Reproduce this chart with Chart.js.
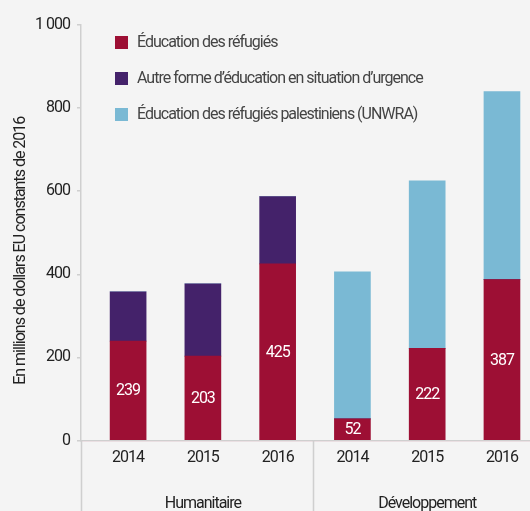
<!DOCTYPE html>
<html lang="fr">
<head>
<meta charset="utf-8">
<title>Financement de l'éducation des réfugiés</title>
<script src="https://cdn.jsdelivr.net/npm/chart.js@4.4.1/dist/chart.umd.min.js"></script>
<style>
  html, body { margin: 0; padding: 0; background: #f4f4f4; overflow: hidden; }
  #wrap { position: relative; width: 530px; height: 511px; }
</style>
</head>
<body>
<div id="wrap"><canvas id="chart"></canvas></div>
<script>
// Years shown under each bar, and the two funding groups they belong to
const years = ['2014', '2015', '2016', '2014', '2015', '2016'];
const groups = ['Humanitaire', 'Développement'];
const groupSize = 3;

// Series values, millions of constant 2016 US dollars
const refugies = [239, 203, 425, 52, 222, 387];
const urgence = [119, 174, 162, 0, 0, 0];
const unrwa = [0, 0, 0, 354, 403, 453];

const seriesNames = [
  'Éducation des réfugiés',
  'Autre forme d’éducation en situation d’urgence',
  'Éducation des réfugiés palestiniens (UNWRA)'
];
const yTicks = [0, 200, 400, 600, 800, 1000];
const yTitle = 'En millions de dollars EU constants de 2016';

const FONT = 'Roboto, "Liberation Sans", sans-serif';
const SPACING = '-1px';
const COLORS = ['#9d0f34', '#44226a', '#7ab9d4'];
const AXIS = '#cfcfcf';

const toPoints = arr => arr.map((v, i) => ({ x: i, y: v }));

function formatThousands(v) {
  return String(v).replace(/\B(?=(\d{3})+(?!\d))/g, ' ');
}

// Tighter letter spacing for all canvas text
const tightText = {
  id: 'tightText',
  beforeUpdate(chart) { chart.ctx.letterSpacing = SPACING; },
  beforeDraw(chart) { chart.ctx.letterSpacing = SPACING; }
};

// Legend inside the plot, top-left
const legendInside = {
  id: 'legendInside',
  afterDraw(chart) {
    const ctx = chart.ctx;
    const x0 = chart.chartArea.left + 34;
    const y0 = chart.chartArea.top + 11;
    ctx.save();
    ctx.font = '16px ' + FONT;
    ctx.textBaseline = 'middle';
    ctx.textAlign = 'left';
    chart.data.datasets.forEach((ds, i) => {
      const y = y0 + i * 36;
      ctx.fillStyle = ds.backgroundColor;
      ctx.fillRect(x0, y, 13, 13);
      ctx.fillStyle = '#444';
      ctx.fillText(ds.label, x0 + 22, y + 7);
    });
    ctx.restore();
  }
};

// Value labels inside the refugee segments
const valueLabels = {
  id: 'valueLabels',
  afterDatasetsDraw(chart) {
    const ctx = chart.ctx;
    const meta = chart.getDatasetMeta(0);
    const { left, right, bottom } = chart.chartArea;
    ctx.save();
    // thin light rule where bars meet the baseline
    ctx.strokeStyle = 'rgba(240,220,225,0.55)';
    ctx.lineWidth = 1;
    ctx.beginPath();
    ctx.moveTo(left, Math.round(bottom) + 0.5);
    ctx.lineTo(right, Math.round(bottom) + 0.5);
    ctx.stroke();

    ctx.font = '16px ' + FONT;
    ctx.fillStyle = '#ffffff';
    ctx.textAlign = 'center';
    ctx.textBaseline = 'middle';
    meta.data.forEach((bar, i) => {
      const v = chart.data.datasets[0].data[i].y;
      if (!v) return;
      const p = bar.getCenterPoint();
      ctx.fillText(String(v), p.x, p.y + 1);
    });
    ctx.restore();
  }
};

// Group captions, separators, axis extension and y title
const groupAxis = {
  id: 'groupAxis',
  afterDraw(chart) {
    const ctx = chart.ctx;
    const xs = chart.scales.x;
    const { left, top, bottom } = chart.chartArea;
    const h = chart.height;
    ctx.save();
    ctx.strokeStyle = AXIS;
    ctx.lineWidth = 1.5;
    // y axis continues below the baseline
    ctx.beginPath();
    ctx.moveTo(Math.round(left) + 0.5, bottom);
    ctx.lineTo(Math.round(left) + 0.5, h);
    ctx.stroke();
    // separators between groups
    for (let g = 1; g < groups.length; g++) {
      const sx = Math.round(xs.getPixelForValue(g * groupSize - 0.5)) - 1.5;
      ctx.beginPath();
      ctx.moveTo(sx, bottom);
      ctx.lineTo(sx, h);
      ctx.stroke();
    }
    // group captions
    ctx.font = '16px ' + FONT;
    ctx.fillStyle = '#222';
    ctx.textAlign = 'center';
    ctx.textBaseline = 'alphabetic';
    groups.forEach((name, g) => {
      const cx = xs.getPixelForValue(g * groupSize + (groupSize - 1) / 2);
      ctx.fillText(name, cx, 508);
    });
    // y axis title
    ctx.translate(21, (top + bottom) / 2 + 18);
    ctx.rotate(-Math.PI / 2);
    ctx.textBaseline = 'middle';
    ctx.fillStyle = '#222';
    ctx.fillText(yTitle, 0, 0);
    ctx.restore();
  }
};

new Chart(document.getElementById('chart'), {
  type: 'bar',
  data: {
    datasets: [
      { label: seriesNames[0], data: toPoints(refugies), backgroundColor: COLORS[0] },
      { label: seriesNames[1], data: toPoints(urgence), backgroundColor: COLORS[1] },
      { label: seriesNames[2], data: toPoints(unrwa), backgroundColor: COLORS[2] }
    ]
  },
  options: {
    responsive: true,
    maintainAspectRatio: false,
    animation: false,
    layout: { padding: { top: 25, right: 0, left: 0, bottom: 0 } },
    datasets: { bar: { barThickness: 36, borderWidth: 0 } },
    plugins: {
      legend: { display: false },
      tooltip: { enabled: false }
    },
    scales: {
      x: {
        type: 'linear',
        stacked: true,
        offset: false,
        min: -0.63,
        max: 5.375,
        afterBuildTicks(scale) {
          scale.ticks = years.map((_, i) => ({ value: i }));
        },
        afterFit(scale) { scale.height = 70.5; },
        grid: { display: false, drawTicks: false },
        border: { display: true, color: AXIS, width: 1.5 },
        ticks: {
          autoSkip: false,
          maxRotation: 0,
          padding: 8,
          color: '#222',
          font: { family: FONT, size: 16 },
          callback: v => years[v]
        }
      },
      y: {
        stacked: true,
        min: 0,
        max: 1000,
        afterBuildTicks(scale) {
          scale.ticks = yTicks.map(v => ({ value: v }));
        },
        afterFit(scale) { scale.width = 81; },
        grid: { drawOnChartArea: false, drawTicks: true, tickLength: 4, color: AXIS, lineWidth: 1.5 },
        border: { display: true, color: AXIS, width: 1.5 },
        ticks: {
          padding: 7,
          color: '#222',
          font: { family: FONT, size: 16 },
          callback: v => formatThousands(v)
        }
      }
    }
  },
  plugins: [tightText, legendInside, valueLabels, groupAxis]
});
</script>
</body>
</html>
